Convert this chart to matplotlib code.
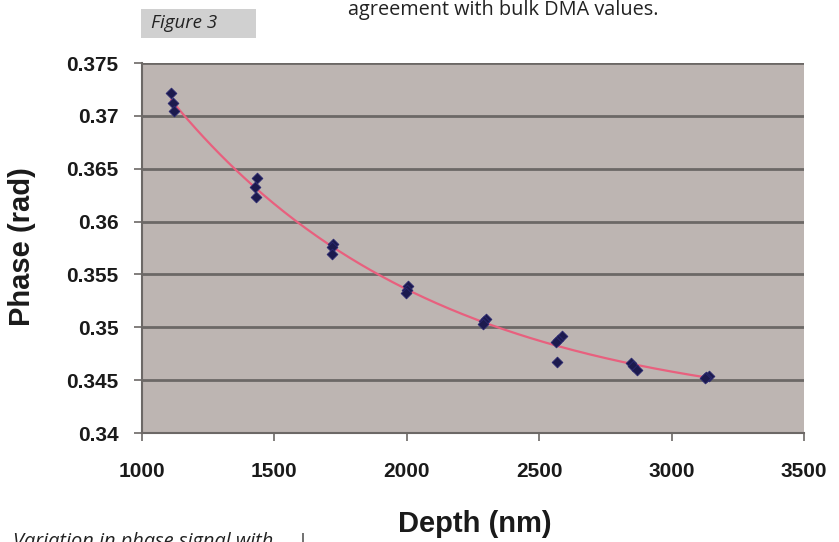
import matplotlib
matplotlib.use("Agg")
import matplotlib.pyplot as plt
import numpy as np

depth = [1110, 1118, 1120,
         1435, 1428, 1432,
         1722, 1718, 1716,
         2005, 2000, 1998,
         2298, 2292, 2288,
         2585, 2572, 2562, 2566,
         2845, 2856, 2870,
         3140, 3130, 3125]
phase = [0.3722, 0.3712, 0.3705,
         0.3641, 0.3633, 0.3623,
         0.3579, 0.3576, 0.3569,
         0.3539, 0.3535, 0.3532,
         0.3508, 0.3506, 0.3503,
         0.3492, 0.3488, 0.3486, 0.3467,
         0.3466, 0.3463, 0.3460,
         0.3454, 0.3453, 0.3452]
xticks = [1000, 1500, 2000, 2500, 3000, 3500]
yticks = [0.34, 0.345, 0.35, 0.355, 0.36, 0.365, 0.37, 0.375]
ytick_labels = ["0.34", "0.345", "0.35", "0.355", "0.36", "0.365", "0.37", "0.375"]

plt.rcParams['font.family'] = ['Liberation Sans', 'DejaVu Sans']

fig = plt.figure(figsize=(8.39, 5.42), dpi=100)
fig.patch.set_facecolor('white')
ax = fig.add_axes([142/839, 1-433/542, (804-142)/839, (433-63)/542])
ax.set_facecolor('#bdb5b2')

ax.set_xlim(1000, 3500)
ax.set_ylim(0.34, 0.375)
ax.set_xticks(xticks)
ax.set_yticks(yticks)
ax.set_yticklabels(ytick_labels)
ax.grid(axis='y', color='#6c6866', linewidth=2.0)
ax.set_axisbelow(True)

# trendline: exponential decay with offset, fitted to the data
x = np.array(depth, dtype=float)
y = np.array(phase, dtype=float)
best = None
for t in np.linspace(200, 5000, 961):
    A = np.column_stack([np.ones_like(x), np.exp(-x / t)])
    sol, res, _, _ = np.linalg.lstsq(A, y, rcond=None)
    err = np.sum((A @ sol - y) ** 2)
    if best is None or err < best[0]:
        best = (err, t, sol)
_, tbest, sol = best
xf = np.linspace(x.min(), x.max(), 200)
yf = sol[0] + sol[1] * np.exp(-xf / tbest)
ax.plot(xf, yf, color='#e8607e', linewidth=1.6, zorder=2)

ax.scatter(depth, phase, marker='D', s=30, color='#1c1a4e', edgecolors='#2a2870',
           linewidths=0.6, zorder=3)

for s in ['top', 'right']:
    ax.spines[s].set_visible(False)
for s in ['left', 'bottom']:
    ax.spines[s].set_color('#6c6866')
    ax.spines[s].set_linewidth(1.5)

ax.tick_params(axis='both', colors='#6c6866', length=6, width=1.2)
ax.tick_params(axis='y', pad=11, labelcolor='#1a1a1a', labelsize=15)
ax.tick_params(axis='x', pad=15, labelcolor='#1a1a1a', labelsize=15)
for lab in ax.get_xticklabels() + ax.get_yticklabels():
    lab.set_fontweight('bold')

fig.text(22/839, 1-247/542, 'Phase (rad)', rotation=90, fontsize=21, fontweight='bold',
         ha='center', va='center', color='#1a1a1a')
fig.text(475/839, 1-524/542, 'Depth (nm)', fontsize=21, fontweight='bold',
         ha='center', va='center', color='#1a1a1a')

# "Figure 3" box
fig.patches.append(matplotlib.patches.Rectangle((141/839, 1-38/542), 115/839, 29/542,
                                                transform=fig.transFigure,
                                                facecolor='#d0d0d0', edgecolor='none'))
fig.text(151/839, 1-23/542, 'Figure 3', fontsize=13.5, style='italic',
         family=['Open Sans', 'DejaVu Sans'], ha='left', va='center', color='#222222')

fig.text(348/839, 1-15/542, 'agreement with bulk DMA values.', fontsize=14.3,
         family=['Open Sans', 'DejaVu Sans'], ha='left', va='baseline', color='#222222')
fig.text(13/839, -5/542, 'Variation in phase signal with', fontsize=14.4, style='italic',
         family=['Open Sans', 'DejaVu Sans'], ha='left', va='baseline', color='#222222')
fig.text(303/839, -5/542, '|', fontsize=13,
         family=['Open Sans', 'DejaVu Sans'], ha='center', va='baseline', color='#222222')

fig.savefig('out.png', dpi=100, facecolor='white')
